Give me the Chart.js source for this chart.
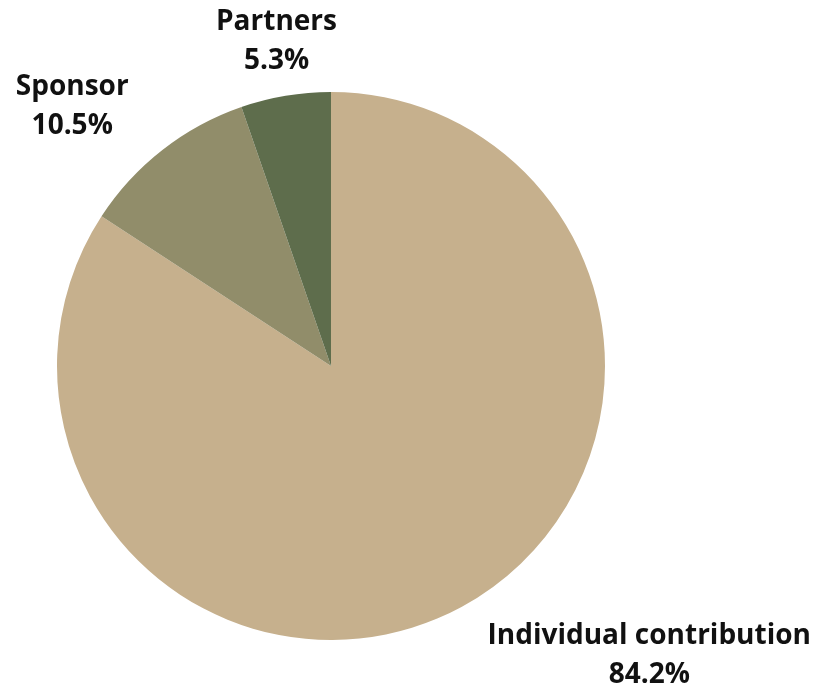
<!DOCTYPE html>
<html>
<head>
<meta charset="utf-8">
<script src="https://cdn.jsdelivr.net/npm/chart.js@4"></script>
<style>
  html, body { margin: 0; padding: 0; background: #fff; }
  #wrap { width: 817px; height: 694px; }
</style>
</head>
<body>
<div id="wrap"><canvas id="pie"></canvas></div>
<script>
const labels = ['Individual contribution', 'Sponsor', 'Partners'];
const shares = [84.2, 10.5, 5.3];
const colors = ['#c6b08d', '#918d6a', '#5e6d4c'];

// draws "name\nxx.x%" outside each slice at 1.2 x radius
const outsideLabels = {
    id: 'outsideLabels',
    afterDatasetsDraw(chart) {
        const ctx = chart.ctx;
        const meta = chart.getDatasetMeta(0);
        ctx.save();
        ctx.font = 'bold 28px "Open Sans", "Noto Sans", sans-serif';
        ctx.fillStyle = '#111';
        ctx.textBaseline = 'middle';
        ctx.textAlign = 'center';
        const lineH = 39;
        meta.data.forEach((arc, i) => {
            const mid = (arc.startAngle + arc.endAngle) / 2;
            const r = arc.outerRadius * 1.2;
            const px = arc.x + Math.cos(mid) * r;
            const py = arc.y + Math.sin(mid) * r;
            const lines = [labels[i], shares[i].toFixed(1) + '%'];
            const w = Math.max(...lines.map(t => ctx.measureText(t).width));
            let cx = px;
            const c = Math.cos(mid);
            if (c > 0.2) cx = px + w / 2;
            else if (c < -0.2) cx = px - w / 2;
            lines.forEach((t, k) => {
                ctx.fillText(t, cx, py + (k - (lines.length - 1) / 2) * lineH);
            });
        });
        ctx.restore();
    }
};

new Chart(document.getElementById('pie'), {
    type: 'pie',
    data: {
        labels: labels,
        datasets: [{
            data: shares,
            backgroundColor: colors,
            borderWidth: 0
        }]
    },
    options: {
        responsive: true,
        maintainAspectRatio: false,
        animation: false,
        layout: { padding: { left: 57, right: 212, top: 92, bottom: 54 } },
        plugins: {
            legend: { display: false },
            tooltip: { enabled: false }
        }
    },
    plugins: [outsideLabels]
});
</script>
</body>
</html>
